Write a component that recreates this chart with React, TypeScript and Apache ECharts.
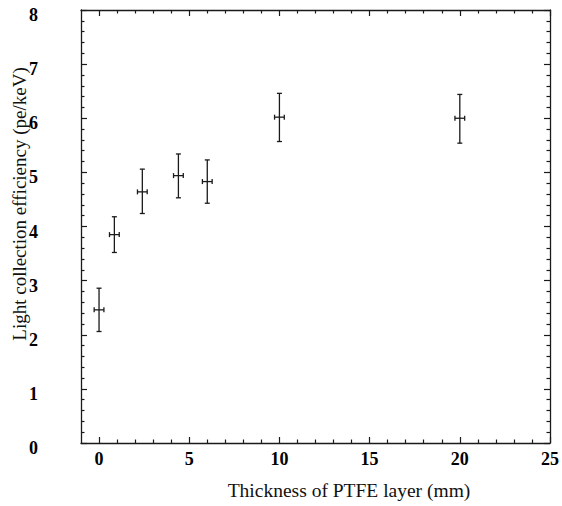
import React, { useEffect, useRef } from "react";
import * as echarts from "echarts";

const thickness = [0, 0.85, 2.4, 4.4, 6.0, 10, 20];
const efficiency = [2.46, 3.85, 4.64, 4.94, 4.83, 6.02, 6.0];
const effLow = [2.06, 3.52, 4.24, 4.53, 4.43, 5.57, 5.54];
const effHigh = [2.86, 4.18, 5.06, 5.34, 5.23, 6.46, 6.44];
const thicknessErr = [0.27, 0.27, 0.27, 0.27, 0.27, 0.27, 0.27];

const xMajorTicks = [0, 5, 10, 15, 20, 25];
const xMinorTicks = [1, 2, 3, 4, 6, 7, 8, 9, 11, 12, 13, 14, 16, 17, 18, 19, 21, 22, 23, 24];

const xTitle = "Thickness of PTFE layer (mm)";
const yTitle = "Light collection efficiency (pe/keV)";

const FONT = "'Liberation Serif', 'Times New Roman', serif";
const INK = "#1a1a1a";

export default function App() {
  const ref = useRef<HTMLDivElement>(null);
  useEffect(() => {
    if (!ref.current) return;
    const chart = echarts.init(ref.current, null, { renderer: "svg" });
    const data = thickness.map((x, i) => [x, efficiency[i], effLow[i], effHigh[i], thicknessErr[i]]);
    const baseX = (pos: string, ticks: number[], len: number, showLine: boolean, showLabel: boolean) => ({
      type: "value",
      position: pos,
      min: -1,
      max: 25,
      axisLine: { show: showLine, onZero: false, lineStyle: { color: INK, width: 1.3 } },
      axisTick: { show: true, inside: true, length: len, customValues: ticks, lineStyle: { color: INK, width: 1.2 } },
      axisLabel: {
        show: showLabel,
        customValues: ticks,
        fontFamily: FONT,
        fontWeight: "bold",
        fontSize: 18,
        color: "#000",
        margin: 7,
      },
      splitLine: { show: false },
    });
    const baseY = (pos: string, showLabel: boolean) => ({
      type: "value",
      position: pos,
      min: 0,
      max: 8,
      interval: 1,
      axisLine: { show: true, onZero: false, lineStyle: { color: INK, width: 1.3 } },
      axisTick: { show: true, inside: true, length: 6, lineStyle: { color: INK, width: 1.2 } },
      minorTick: { show: true, splitNumber: 5, length: 3.5, lineStyle: { color: INK, width: 1.2 } },
      axisLabel: {
        show: showLabel,
        fontFamily: FONT,
        fontWeight: "bold",
        fontSize: 18,
        color: "#000",
        margin: 43,
        verticalAlign: "top",
        lineHeight: 10,
      },
      splitLine: { show: false },
    });
    chart.setOption({
      animation: false,
      backgroundColor: "#fff",
      grid: { left: 81, right: 7, top: 10, bottom: 63, containLabel: false },
      xAxis: [
        baseX("bottom", xMajorTicks, 6, true, true),
        baseX("bottom", xMinorTicks, 3.5, false, false),
        baseX("top", xMajorTicks, 6, true, false),
        baseX("top", xMinorTicks, 3.5, false, false),
      ],
      yAxis: [baseY("left", true), baseY("right", false)],
      graphic: [
        {
          type: "text",
          x: 349,
          y: 490,
          style: {
            text: xTitle,
            font: `19.5px ${FONT}`,
            fill: "#111",
            align: "center",
            verticalAlign: "middle",
          },
        },
        {
          type: "text",
          x: 19,
          y: 204,
          rotation: Math.PI / 2,
          style: {
            text: yTitle,
            font: `19px ${FONT}`,
            fill: "#111",
            align: "center",
            verticalAlign: "middle",
          },
        },
      ],
      series: [
        {
          type: "custom",
          xAxisIndex: 0,
          yAxisIndex: 0,
          encode: { x: 0, y: 1 },
          data,
          renderItem: (params: any, api: any) => {
            const x = api.value(0);
            const y = api.value(1);
            const lo = api.value(2);
            const hi = api.value(3);
            const xe = api.value(4);
            const pLo = api.coord([x, lo]);
            const pHi = api.coord([x, hi]);
            const pL = api.coord([x - xe, y]);
            const pR = api.coord([x + xe, y]);
            const cap = 2.5;
            const style = { stroke: INK, lineWidth: 1.3 };
            const line = (x1: number, y1: number, x2: number, y2: number) => ({
              type: "line",
              shape: { x1, y1, x2, y2 },
              style,
            });
            return {
              type: "group",
              children: [
                line(pLo[0], pLo[1], pHi[0], pHi[1]),
                line(pLo[0] - cap, pLo[1], pLo[0] + cap, pLo[1]),
                line(pHi[0] - cap, pHi[1], pHi[0] + cap, pHi[1]),
                line(pL[0], pL[1], pR[0], pR[1]),
                line(pL[0], pL[1] - cap, pL[0], pL[1] + cap),
                line(pR[0], pR[1] - cap, pR[0], pR[1] + cap),
              ],
            };
          },
        },
      ],
    });
    return () => chart.dispose();
  }, []);
  return (
    <div
      ref={ref}
      style={{ position: "fixed", left: 0, top: 0, width: 562, height: 506, background: "#fff" }}
    />
  );
}
